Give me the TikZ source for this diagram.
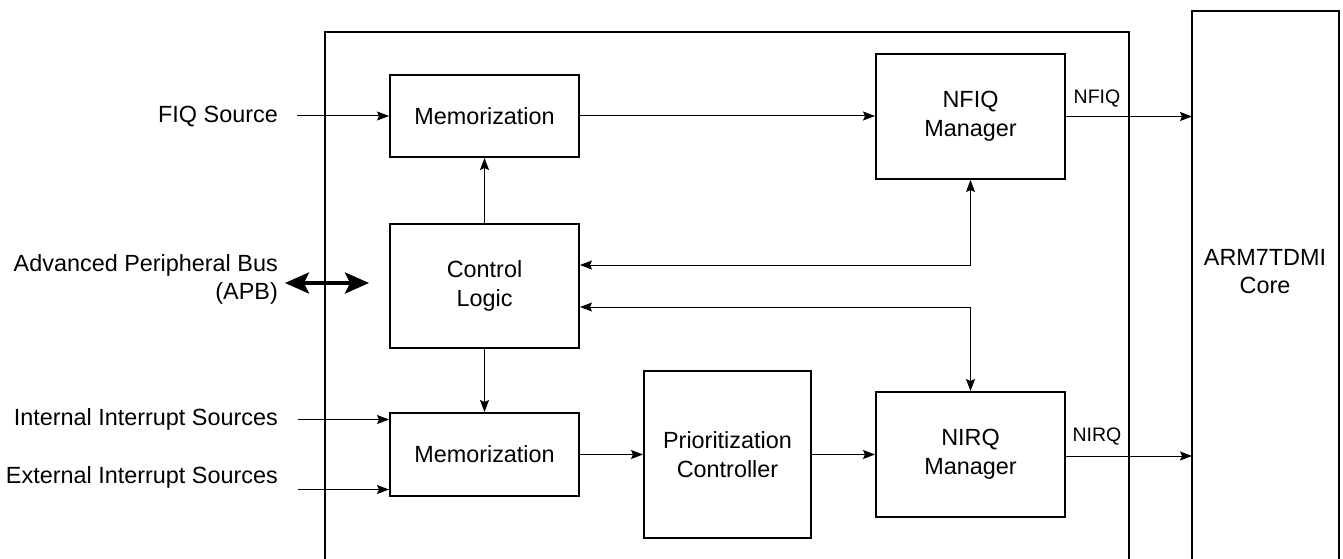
\documentclass[tikz,border=0pt]{standalone}
\usepackage{fontspec}
\setmainfont{Liberation Sans}
\usetikzlibrary{arrows.meta}
\begin{document}
\begin{tikzpicture}[x=1pt,y=-1pt,
  blk/.style={draw,line width=2pt,minimum width=189pt,inner sep=0pt,align=center,font=\fontsize{23.4}{29}\selectfont},
  lbl/.style={inner sep=0pt,align=right,font=\fontsize{23.4}{28}\selectfont},
  sig/.style={inner sep=0pt,font=\fontsize{19.5}{23}\selectfont},
  frame/.style={line width=2pt},
  arr/.style={line width=1pt,-{Stealth[length=12pt,width=9pt,inset=2pt]}},
  darr/.style={line width=1pt,{Stealth[length=12pt,width=9pt,inset=2pt]}-{Stealth[length=12pt,width=9pt,inset=2pt]}},
  busarr/.style={line width=3.5pt,{Stealth[length=24pt,width=21pt,inset=5pt]}-{Stealth[length=24pt,width=21pt,inset=5pt]}},
]
\useasboundingbox (0,0) rectangle (1343,559);
% frames
\draw[frame] (325,560) -- (325,32) -- (1129,32) -- (1129,560);
\draw[frame] (1192,560) -- (1192,11) -- (1339,11) -- (1339,560);
\coordinate (armL) at (1192,11);
\node[lbl,align=center] (arm) at (1265,272) {ARM7TDMI\\Core};
% blocks
\node[blk,minimum height=82pt] (mem1) at (484.5,116) {Memorization};
\node[blk,minimum height=125pt] (nfiq) at (970.5,116.5) {NFIQ\\Manager};
\node[blk,minimum height=124pt] (ctrl) at (484.5,286) {Control\\Logic};
\node[blk,minimum height=83pt] (mem2) at (484.5,454.5) {Memorization};
\node[blk,minimum width=167pt,minimum height=167pt] (prio) at (727.5,454.5) {Prioritization\\Controller};
\node[blk,minimum height=125pt] (nirq) at (970.5,454.5) {NIRQ\\Manager};
% external labels
\node[lbl,anchor=east] (fiq) at (278,117) {FIQ Source};
\node[lbl,anchor=east] (apb) at (278,279) {Advanced Peripheral Bus\\(APB)};
\node[lbl,anchor=east] (intl) at (278,419) {Internal Interrupt Sources};
\node[lbl,anchor=east] (extl) at (278,477) {External Interrupt Sources};
\coordinate (fiqS) at (297,116);
\coordinate (intS) at (298,419.5);
\coordinate (extS) at (298,489.5);
\coordinate (apbL) at (285,283);
\coordinate (apbR) at (369,283);
% connectors
\draw[arr] (fiqS) -- (fiqS -| mem1.west);
\draw[arr] (mem1.east) -- (nfiq.west |- mem1.east);
\draw[arr] (nfiq.east) -- (nfiq.east -| armL);
\node[sig] (nfiql) at (1097,99) {NFIQ};
\draw[arr] (ctrl.north) -- (mem1.south);
\draw[arr] (ctrl.south) -- (mem2.north);
\draw[darr] (nfiq.south) |- ([yshift=21pt]ctrl.east);
\draw[darr] (nirq.north) |- ([yshift=-21pt]ctrl.east);
\draw[busarr] (apbL) -- (apbR);
\draw[arr] (intS) -- (intS -| mem2.west);
\draw[arr] (extS) -- (extS -| mem2.west);
\draw[arr] (mem2.east) -- (prio.west);
\draw[arr] (prio.east) -- (nirq.west);
\draw[arr] ([yshift=-1.5pt]nirq.east) -- ([yshift=-1.5pt]nirq.east -| armL);
\node[sig] (nirql) at (1097,437) {NIRQ};
\end{tikzpicture}
\end{document}
